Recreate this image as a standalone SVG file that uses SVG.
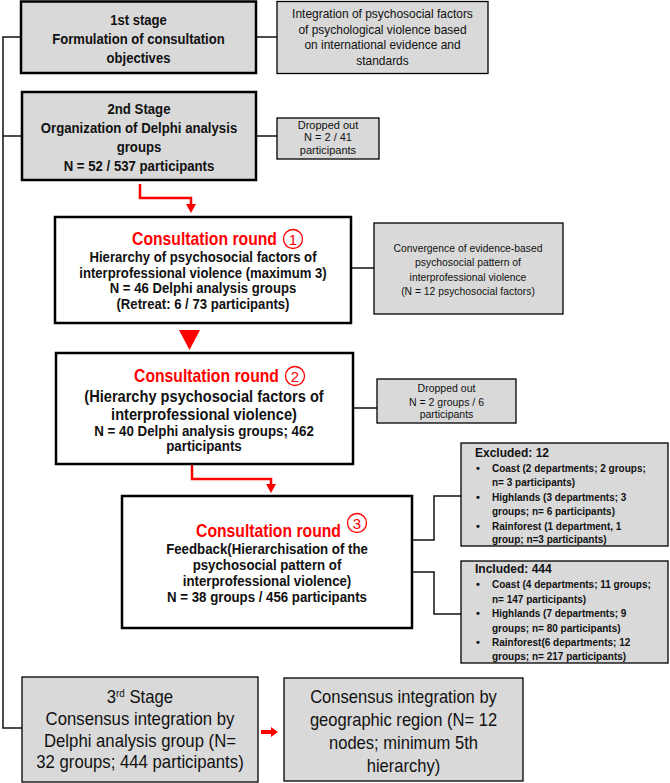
<svg xmlns="http://www.w3.org/2000/svg" width="670" height="783" viewBox="0 0 670 783">
<style>
.main{fill:#d9d9d9;stroke:#000;stroke-width:2.5}
.round{fill:#fff;stroke:#000;stroke-width:2.5}
.side{fill:#d9d9d9;stroke:#000;stroke-width:1.3}
.t{font-family:"Liberation Sans",Arial,sans-serif;fill:#111;text-anchor:middle}
.b{font-weight:bold}
.red{fill:#ff0000}
.conn{fill:none;stroke:#111;stroke-width:1.5}
.rc{fill:none;stroke:#ff0000;stroke-width:2.5}
.l{text-anchor:start}
.num{fill:none;stroke:#ff0000;stroke-width:1.3}
</style>
<rect width="670" height="783" fill="#fff"/>
<g id="connectors">
<polyline class="conn" points="21,37 3,37 3,728 22,728" stroke-width="2"/>
<line class="conn" x1="3" y1="136" x2="22" y2="136" stroke-width="2"/>
<line class="conn" x1="256" y1="37" x2="277" y2="37" stroke-width="2"/>
<line class="conn" x1="256" y1="136" x2="277" y2="136"/>
<line class="conn" x1="351" y1="268" x2="374" y2="268"/>
<line class="conn" x1="353" y1="408" x2="377" y2="408"/>
<polyline class="conn" points="412,540 434,540 434,496 461,496"/>
<polyline class="conn" points="412,572 434,572 434,614 461,614"/>
<polyline class="rc" points="140,184 140,198 191,198 191,205"/>
<polygon class="red" points="186,204 196,204 191,213"/>
<polygon class="red" points="179,330 200,330 189.5,350"/>
<polyline class="rc" points="192,465 192,479 271,479 271,485"/>
<polygon class="red" points="266,484 276,484 271,493"/>
<polygon class="red" points="261,730 271,730 271,727 278,732 271,737 271,734 261,734"/>
</g>
<g id="stage1">
<rect class="main" x="21" y="1.5" width="235" height="71.5"/>
<text class="t b" font-size="14.5" transform="matrix(0.9 0 0 1 13.85 0)"><tspan x="138.5" y="25">1st stage</tspan><tspan x="138.5" y="44">Formulation of consultation</tspan><tspan x="138.5" y="63">objectives</tspan></text>
</g>
<g id="integration">
<rect class="side" x="277" y="1.5" width="211" height="72"/>
<text class="t" font-size="13" transform="matrix(0.92 0 0 1 30.6 0)"><tspan x="382.5" y="18.5">Integration of psychosocial factors</tspan><tspan x="382.5" y="34">of psychological violence based</tspan><tspan x="382.5" y="49.5">on international evidence and</tspan><tspan x="382.5" y="65.5">standards</tspan></text>
</g>
<g id="stage2">
<rect class="main" x="22" y="92" width="234" height="88"/>
<text class="t b" font-size="14.5" transform="matrix(0.91 0 0 1 12.51 0)"><tspan x="139" y="114">2nd Stage</tspan><tspan x="139" y="133">Organization of Delphi analysis</tspan><tspan x="139" y="152">groups</tspan><tspan x="139" y="171">N = 52 / 537 participants</tspan></text>
</g>
<g id="dropped1">
<rect class="side" x="277" y="118" width="102" height="41"/>
<text class="t" font-size="11"><tspan x="328" y="129">Dropped out</tspan><tspan x="328" y="141">N = 2 / 41</tspan><tspan x="328" y="154">participants</tspan></text>
</g>
<g id="round1">
<rect class="round" x="55" y="217" width="296" height="106"/>
<text class="t b red" font-size="18.5" x="204.5" y="245.5" transform="matrix(0.85 0 0 1 30.68 0)">Consultation round</text>
<circle class="num" cx="293" cy="239" r="9.5"/>
<text class="t red" font-size="15" x="293" y="244.5">1</text>
<text class="t b" font-size="14.3" transform="matrix(0.92 0 0 1 16.24 0)"><tspan x="203" y="262">Hierarchy of psychosocial factors of</tspan><tspan x="203" y="277.7">interprofessional violence (maximum 3)</tspan><tspan x="203" y="293.4">N = 46 Delphi analysis groups</tspan><tspan x="203" y="309">(Retreat: 6 / 73 participants)</tspan></text>
</g>
<g id="convergence">
<rect class="side" x="374" y="223" width="189" height="91"/>
<text class="t" font-size="11.5" transform="matrix(0.9 0 0 1 46.8 0)"><tspan x="468" y="252">Convergence of evidence-based</tspan><tspan x="468" y="266.5">psychosocial pattern of</tspan><tspan x="468" y="281">interprofessional violence</tspan><tspan x="468" y="295.5">(N = 12 psychosocial factors)</tspan></text>
</g>
<g id="round2">
<rect class="round" x="56" y="353" width="297" height="111"/>
<text class="t b red" font-size="18.5" x="206.5" y="382.5" transform="matrix(0.85 0 0 1 30.98 0)">Consultation round</text>
<circle class="num" cx="295" cy="376" r="9.5"/>
<text class="t red" font-size="15" x="295" y="381.5">2</text>
<text class="t b" font-size="16.5" transform="matrix(0.885 0 0 1 23.46 0)"><tspan x="204" y="402">(Hierarchy psychosocial factors of</tspan><tspan x="204" y="420">interprofessional violence)</tspan></text>
<text class="t b" font-size="14.5" transform="matrix(0.92 0 0 1 16.32 0)"><tspan x="204" y="436">N = 40 Delphi analysis groups; 462</tspan><tspan x="204" y="451">participants</tspan></text>
</g>
<g id="dropped2">
<rect class="side" x="377" y="379" width="139" height="44"/>
<text class="t" font-size="10.5"><tspan x="446.5" y="392">Dropped out</tspan><tspan x="446.5" y="406">N = 2 groups / 6</tspan><tspan x="446.5" y="418">participants</tspan></text>
</g>
<g id="round3">
<rect class="round" x="122" y="496" width="290" height="132"/>
<text class="t b red" font-size="18.5" x="268.5" y="537.5" transform="matrix(0.85 0 0 1 40.28 0)">Consultation round</text>
<circle class="num" cx="357" cy="523" r="9.5"/>
<text class="t red" font-size="15" x="357" y="528.5">3</text>
<text class="t b" font-size="14.5" transform="matrix(0.915 0 0 1 22.7 0)"><tspan x="267" y="554">Feedback(Hierarchisation of the</tspan><tspan x="267" y="570">psychosocial pattern of</tspan><tspan x="267" y="586">interprofessional violence)</tspan><tspan x="267" y="602">N = 38 groups / 456 participants</tspan></text>
</g>
<g id="excluded">
<rect class="side" x="461" y="443" width="207" height="103"/>
<text class="t l b" font-size="13.5" x="475" y="457" transform="matrix(0.89 0 0 1 52.25 0)">Excluded: 12</text>
<text class="t l b" font-size="11"><tspan x="476" y="472">•</tspan><tspan x="476" y="501">•</tspan><tspan x="476" y="530">•</tspan></text>
<text class="t l b" font-size="11.5" transform="matrix(0.87 0 0 1 63.96 0)"><tspan x="492" y="472">Coast (2 departments; 2 groups;</tspan><tspan x="492" y="486">n= 3 participants)</tspan><tspan x="492" y="501">Highlands (3 departments; 3</tspan><tspan x="492" y="515">groups; n= 6 participants)</tspan><tspan x="492" y="530">Rainforest (1 department, 1</tspan><tspan x="492" y="543">group; n=3 participants)</tspan></text>
</g>
<g id="included">
<rect class="side" x="461" y="561" width="207" height="102"/>
<text class="t l b" font-size="13.5" x="475" y="573" transform="matrix(0.89 0 0 1 52.25 0)">Included: 444</text>
<text class="t l b" font-size="11"><tspan x="476" y="588">•</tspan><tspan x="476" y="617">•</tspan><tspan x="476" y="646">•</tspan></text>
<text class="t l b" font-size="11.5" transform="matrix(0.87 0 0 1 63.96 0)"><tspan x="492" y="588">Coast (4 departments; 11 groups;</tspan><tspan x="492" y="603">n= 147 participants)</tspan><tspan x="492" y="617">Highlands (7 departments; 9</tspan><tspan x="492" y="632">groups; n= 80 participants)</tspan><tspan x="492" y="646">Rainforest(6 departments; 12</tspan><tspan x="492" y="660">groups; n= 217 participants)</tspan></text>
</g>
<g id="stage3">
<rect class="side" x="22" y="677" width="236" height="105" stroke-width="1.5"/>
<text class="t" font-size="18" transform="matrix(0.93 0 0 1 9.8 0)"><tspan x="140" y="703">3<tspan font-size="10.5" dy="-6">rd</tspan><tspan dy="6"> Stage</tspan></tspan><tspan x="140" y="725">Consensus integration by</tspan><tspan x="140" y="747">Delphi analysis group (N=</tspan><tspan x="140" y="768">32 groups; 444 participants)</tspan></text>
</g>
<g id="consensus">
<rect class="side" x="284" y="678" width="239" height="103" stroke-width="1.5"/>
<text class="t" font-size="18" transform="matrix(0.92 0 0 1 32.28 0)"><tspan x="403.5" y="703">Consensus integration by</tspan><tspan x="403.5" y="726">geographic region (N= 12</tspan><tspan x="403.5" y="749">nodes; minimum 5th</tspan><tspan x="403.5" y="772">hierarchy)</tspan></text>
</g>
</svg>
